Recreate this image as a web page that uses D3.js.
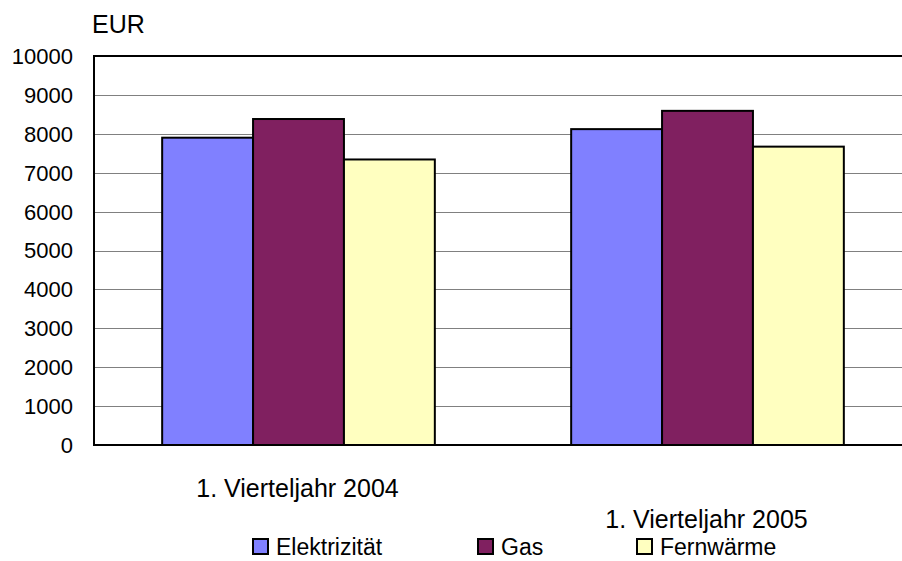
<!DOCTYPE html>
<html>
<head>
<meta charset="utf-8">
<script src="https://cdn.jsdelivr.net/npm/d3@7"></script>
<style>
  body { margin: 0; background: #fff; }
  svg { display: block; font-family: "Liberation Sans", Arial, sans-serif; }
</style>
</head>
<body>
<div id="chart"></div>
<script>
var quarters = ["1. Vierteljahr 2004", "1. Vierteljahr 2005"];
var series   = ["Elektrizität", "Gas", "Fernwärme"];
var colors   = ["#8080ff", "#802060", "#ffffc0"];
var elektrizitaet = [7900, 8120];
var gas           = [8380, 8590];
var fernwaerme    = [7340, 7670];
var yTicks = [0, 1000, 2000, 3000, 4000, 5000, 6000, 7000, 8000, 9000, 10000];

var values = [elektrizitaet, gas, fernwaerme];

var W = 902, H = 561,
    plotL = 94, plotT = 56, plotB = 445, plotR = 912;

var svg = d3.select("#chart").append("svg")
    .attr("width", W)
    .attr("height", H);

var x = d3.scaleBand().domain(quarters).range([plotL, plotR])
    .paddingInner(1/3).paddingOuter(1/6);
var xs = d3.scaleBand().domain(series).range([0, x.bandwidth()]);
var y = d3.scaleLinear().domain([0, 10000]).range([plotB, plotT]);

// grid lines
svg.selectAll(".grid")
  .data(yTicks.slice(1, -1))
  .enter().append("line")
    .attr("class", "grid")
    .attr("x1", plotL).attr("x2", plotR)
    .attr("y1", function(d) { return Math.round(y(d)) + 0.5; })
    .attr("y2", function(d) { return Math.round(y(d)) + 0.5; })
    .style("stroke", "#808080")
    .style("stroke-width", 1);

// bars
quarters.forEach(function(q, qi) {
  svg.selectAll(".bar" + qi)
    .data(series)
    .enter().append("rect")
      .attr("x", function(s) { return x(q) + xs(s); })
      .attr("y", function(s, si) { return y(values[si][qi]); })
      .attr("width", xs.bandwidth())
      .attr("height", function(s, si) { return plotB - y(values[si][qi]); })
      .style("fill", function(s, si) { return colors[si]; })
      .style("stroke", "#000")
      .style("stroke-width", 2);
});

// plot frame: top, left, bottom
svg.append("path")
  .attr("d", "M" + plotR + "," + plotT + "H" + plotL + "V" + plotB + "H" + plotR)
  .style("fill", "none")
  .style("stroke", "#000")
  .style("stroke-width", 2);

// y axis labels
svg.selectAll(".ylab")
  .data(yTicks)
  .enter().append("text")
    .attr("class", "ylab")
    .attr("x", 73)
    .attr("y", function(d) { return y(d); })
    .attr("dy", "0.36em")
    .attr("text-anchor", "end")
    .style("font-size", "22px")
    .text(function(d) { return d; });

svg.append("text")
  .attr("x", 92).attr("y", 33)
  .style("font-size", "25px")
  .text("EUR");

// category labels, staggered
svg.selectAll(".xlab")
  .data(quarters)
  .enter().append("text")
    .attr("class", "xlab")
    .attr("x", function(d) { return x(d) + x.bandwidth() / 2 - 1; })
    .attr("y", function(d, i) { return i === 0 ? 497 : 528; })
    .attr("text-anchor", "middle")
    .style("font-size", "25px")
    .text(function(d) { return d; });

// legend
var legX = [253, 478, 637];
var leg = svg.selectAll(".leg")
  .data(series)
  .enter().append("g")
    .attr("class", "leg")
    .attr("transform", function(d, i) { return "translate(" + legX[i] + ",539)"; });
leg.append("rect")
  .attr("width", 15).attr("height", 15)
  .style("fill", function(d, i) { return colors[i]; })
  .style("stroke", "#000")
  .style("stroke-width", 2);
leg.append("text")
  .attr("x", 23).attr("y", 16)
  .style("font-size", "23px")
  .text(function(d) { return d; });
</script>
</body>
</html>
